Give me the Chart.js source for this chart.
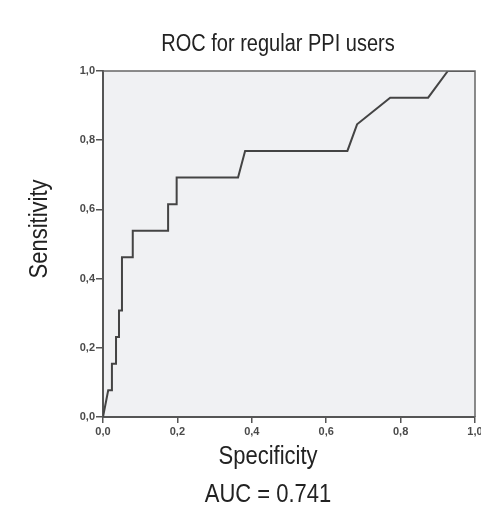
<!DOCTYPE html>
<html>
<head>
<meta charset="utf-8">
<script src="https://cdn.jsdelivr.net/npm/chart.js@4"></script>
<style>
  body { margin: 0; background: #fff; }
  #wrap { width: 481px; height: 508px; }
</style>
</head>
<body>
<div id="wrap"><canvas id="roc-chart" width="481" height="508"></canvas></div>
<script>
// ROC curve points (x = 1 - specificity, y = sensitivity)
var fpr = [0, 0.014, 0.024, 0.024, 0.035, 0.035, 0.043, 0.043, 0.051, 0.051, 0.08, 0.08, 0.175, 0.175, 0.198, 0.198, 0.363, 0.382, 0.657, 0.683, 0.772, 0.874, 0.927, 1.0];
var tpr = [0, 0.077, 0.077, 0.154, 0.154, 0.231, 0.231, 0.308, 0.308, 0.462, 0.462, 0.538, 0.538, 0.615, 0.615, 0.692, 0.692, 0.769, 0.769, 0.846, 0.923, 0.923, 1.0, 1.0];
var tickValues = [0, 0.2, 0.4, 0.6, 0.8, 1.0];
var chartTitle = 'ROC for regular PPI users';
var xTitle = 'Specificity';
var yTitle = 'Sensitivity';
var aucText = 'AUC = 0.741';

var points = [];
for (var i = 0; i < fpr.length; i++) {
  points.push({ x: fpr[i], y: tpr[i] });
}

function commaTick(value) {
  return value.toFixed(1).replace('.', ',');
}

// text in the picture is a bit taller than it is wide
function drawTallText(ctx, text, x, y, size, angle) {
  ctx.save();
  ctx.translate(x, y);
  if (angle) ctx.rotate(angle);
  ctx.scale(1, 1.15);
  ctx.font = size + 'px "Liberation Sans", Arial, sans-serif';
  ctx.fillText(text, 0, 0);
  ctx.restore();
}

// plot background + top/right frame + titles
var frame = {
  id: 'frame',
  beforeDraw: function (chart) {
    var a = chart.chartArea;
    var ctx = chart.ctx;
    ctx.save();
    ctx.fillStyle = '#f0f1f3';
    ctx.fillRect(a.left, a.top, a.right - a.left, a.bottom - a.top);
    ctx.restore();
  },
  afterDraw: function (chart) {
    var a = chart.chartArea;
    var ctx = chart.ctx;
    ctx.save();
    ctx.strokeStyle = '#666';
    ctx.lineWidth = 1.5;
    ctx.beginPath();
    ctx.moveTo(a.left, a.top);
    ctx.lineTo(a.right, a.top);
    ctx.lineTo(a.right, a.bottom);
    ctx.stroke();

    ctx.fillStyle = '#222';
    ctx.textAlign = 'center';
    ctx.textBaseline = 'middle';
    drawTallText(ctx, chartTitle, 278, 45, 20, 0);
    drawTallText(ctx, xTitle, 268, 457, 22, 0);
    drawTallText(ctx, aucText, 268, 495, 22, 0);
    drawTallText(ctx, yTitle, 40, 229, 22, -Math.PI / 2);
    ctx.restore();
  }
};

var tickFont = { family: '"Liberation Sans", Arial, sans-serif', size: 11, weight: 'bold' };

var rocChart = new Chart(document.getElementById('roc-chart'), {
  type: 'line',
  data: {
    datasets: [
      {
        data: points,
        borderColor: '#444',
        borderWidth: 2,
        pointRadius: 0,
        tension: 0,
        fill: false
      }
    ]
  },
  options: {
    responsive: false,
    animation: false,
    layout: { padding: { left: 0, right: 6, top: 71, bottom: 0 } },
    plugins: {
      legend: { display: false },
      tooltip: { enabled: false }
    },
    scales: {
      x: {
        type: 'linear',
        min: 0,
        max: 1,
        afterBuildTicks: function (scale) {
          scale.ticks = tickValues.map(function (v) { return { value: v }; });
        },
        afterFit: function (scale) {
          scale.height = 91;
          scale.paddingLeft = 0;
          scale.paddingRight = 0;
        },
        grid: { drawOnChartArea: false, drawTicks: true, tickLength: 6, tickColor: '#555', lineWidth: 1.5 },
        border: { display: true, color: '#555', width: 2 },
        ticks: { color: '#4a4a4a', font: tickFont, padding: 2, maxRotation: 0, callback: commaTick }
      },
      y: {
        type: 'linear',
        min: 0,
        max: 1,
        afterBuildTicks: function (scale) {
          scale.ticks = tickValues.map(function (v) { return { value: v }; });
        },
        afterFit: function (scale) {
          scale.width = 103;
          scale.paddingTop = 0;
          scale.paddingBottom = 0;
        },
        grid: { drawOnChartArea: false, drawTicks: true, tickLength: 7, tickColor: '#555', lineWidth: 1.5 },
        border: { display: true, color: '#555', width: 2 },
        ticks: { color: '#4a4a4a', font: tickFont, padding: 1, callback: commaTick }
      }
    }
  },
  plugins: [frame]
});
</script>
</body>
</html>
